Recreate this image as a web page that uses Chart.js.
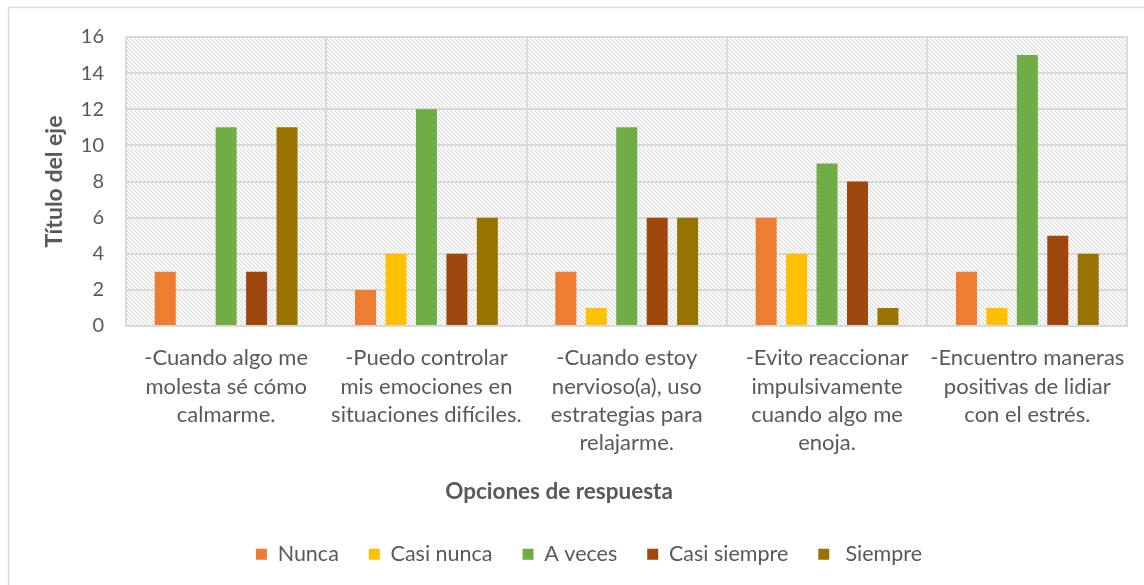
<!DOCTYPE html>
<html>
<head>
<meta charset="utf-8">
<script src="https://cdn.jsdelivr.net/npm/chart.js@4"></script>
<style>
  html, body { margin: 0; padding: 0; background: #fff; }
  #wrap { width: 1144px; height: 585px; position: relative; }
</style>
</head>
<body>
<div id="wrap"><canvas id="c" width="1144" height="585"></canvas></div>
<script>
const categories = [
  ["-Cuando algo me", "molesta sé cómo", "calmarme."],
  ["-Puedo controlar", "mis emociones en", "situaciones difíciles."],
  ["-Cuando estoy", "nervioso(a), uso", "estrategias para", "relajarme."],
  ["-Evito reaccionar", "impulsivamente", "cuando algo me", "enoja."],
  ["-Encuentro maneras", "positivas de lidiar", "con el estrés."]
];
const seriesNames = ["Nunca", "Casi nunca", "A veces", "Casi siempre", " Siempre"];
const nunca       = [3, 2, 3, 6, 3];
const casiNunca   = [0, 4, 1, 4, 1];
const aVeces      = [11, 12, 11, 9, 15];
const casiSiempre = [3, 4, 6, 8, 5];
const siempre     = [11, 6, 6, 1, 4];
const yTicks = { min: 0, max: 16, step: 2 };
const yTitle = "Título del eje";
const xTitle = "Opciones de respuesta";

const colors = ["#ED7D31", "#FFC000", "#70AD47", "#9E480E", "#997300"];
const values = [nunca, casiNunca, aVeces, casiSiempre, siempre];

const FONT = "Lato, 'Open Sans', sans-serif";
const TXT = "#595959";

// hatch pattern (light downward diagonal)
const pc = document.createElement('canvas');
pc.width = 4; pc.height = 4;
const pctx = pc.getContext('2d');
pctx.fillStyle = '#ffffff';
pctx.fillRect(0, 0, 4, 4);
for (let y = 0; y < 4; y++) {
  for (let x = 0; x < 4; x++) {
    const d = ((x - y) % 4 + 4) % 4;
    if (d === 0) { pctx.fillStyle = '#dadada'; pctx.fillRect(x, y, 1, 1); }
    else if (d === 1) { pctx.fillStyle = '#ededed'; pctx.fillRect(x, y, 1, 1); }
  }
}

const bgPlugin = {
  id: 'bg',
  beforeDraw(chart) {
    const { ctx, chartArea: a, width, height } = chart;
    ctx.save();
    ctx.fillStyle = '#ffffff';
    ctx.fillRect(0, 0, width, height);
    ctx.strokeStyle = '#d9d9d9';
    ctx.lineWidth = 1.5;
    ctx.strokeRect(8.5, 7.5, width + 20, height + 20);
    const pat = ctx.createPattern(pc, 'repeat');
    ctx.fillStyle = pat;
    ctx.fillRect(a.left, a.top, a.right - a.left, a.bottom - a.top);
    ctx.restore();
    // shift legend block to the left like the reference
    const lg = chart.legend;
    if (lg) { lg.left = 40; lg.right = 1138; }
  },
  afterDraw(chart) {
    const { ctx } = chart;
    ctx.save();
    ctx.fillStyle = TXT;
    ctx.font = "bold 22.5px " + FONT;
    ctx.textAlign = 'center';
    ctx.textBaseline = 'middle';
    ctx.fillText(xTitle, 559, 492);
    ctx.restore();
  }
};

new Chart(document.getElementById('c'), {
  type: 'bar',
  data: {
    labels: categories,
    datasets: seriesNames.map((n, i) => ({
      label: n,
      data: values[i],
      backgroundColor: colors[i],
      borderWidth: 0,
      categoryPercentage: 0.76,
      barPercentage: 0.69
    }))
  },
  options: {
    responsive: false,
    animation: false,
    devicePixelRatio: 1,
    layout: { padding: { top: 37, right: 16, left: 10, bottom: 10 } },
    plugins: {
      legend: {
        position: 'bottom',
        labels: {
          boxWidth: 11, boxHeight: 11,
          color: TXT,
          font: { family: FONT, size: 21.5 },
          padding: 30
        }
      },
      tooltip: { enabled: false }
    },
    scales: {
      x: {
        offset: true,
        grid: { display: true, offset: true, color: '#d9d9d9', lineWidth: 2, drawTicks: false },
        border: { color: '#d9d9d9', width: 2 },
        ticks: {
          color: TXT, font: { family: FONT, size: 22, lineHeight: 1.29 },
          padding: 18, maxRotation: 0, autoSkip: false
        },
        title: { display: false },
        afterFit(s) { s.height = 187.5; }
      },
      y: {
        min: yTicks.min, max: yTicks.max,
        grid: { color: '#d9d9d9', lineWidth: 2, drawTicks: false },
        border: { display: false },
        ticks: {
          stepSize: yTicks.step, color: TXT, font: { family: FONT, size: 20 }, padding: 22
        },
        title: {
          display: true, text: yTitle, color: TXT,
          font: { family: FONT, size: 23, weight: 'bold' },
          padding: { top: 31, bottom: 0 }
        },
        afterFit(s) { s.width = 116; }
      }
    }
  },
  plugins: [bgPlugin]
});
</script>
</body>
</html>
